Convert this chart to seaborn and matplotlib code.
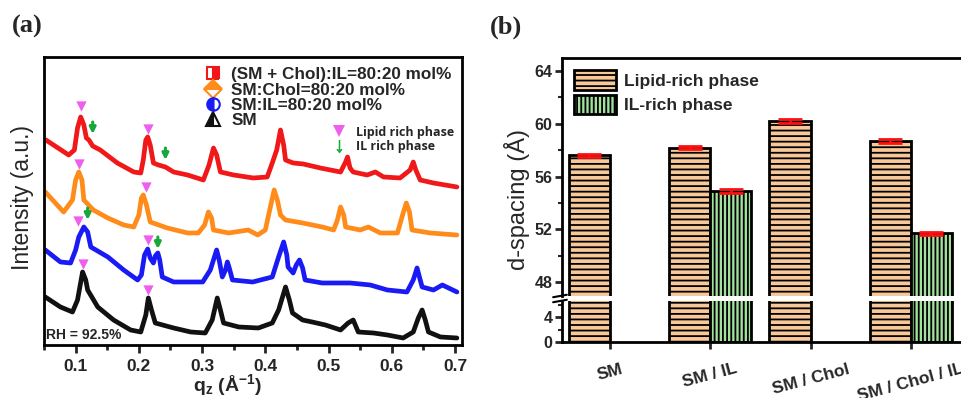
import numpy as np
import pandas as pd
import matplotlib
matplotlib.use("Agg")
import matplotlib.pyplot as plt
import seaborn as sns
from matplotlib.lines import Line2D
from matplotlib.patches import Patch
from matplotlib.ticker import MultipleLocator, FixedLocator

# ---------------- panel (a): XRD profiles (q in 1/A, intensity in a.u.) ----------------
q_red = [0.053, 0.089, 0.098, 0.103, 0.108, 0.113, 0.117, 0.121, 0.127, 0.139, 0.166, 0.192, 0.203,
         0.207, 0.211, 0.214, 0.218, 0.223, 0.231, 0.242, 0.255, 0.277, 0.302, 0.311, 0.318, 0.323,
         0.329, 0.350, 0.381, 0.403, 0.411, 0.418, 0.424, 0.429, 0.432, 0.444, 0.460, 0.487, 0.519,
         0.527, 0.530, 0.534, 0.539, 0.561, 0.574, 0.587, 0.613, 0.629, 0.634, 0.638, 0.645, 0.666, 0.703]
i_red = [205, 190, 195, 217, 228, 220, 207, 205, 199, 195, 182, 173, 172,
         185, 205, 208, 200, 182, 180, 178, 173, 170, 165, 180, 197, 190,
         173, 170, 167, 168, 182, 195, 215, 200, 185, 182, 181, 177, 173,
         183, 188, 177, 173, 170, 173, 168, 167, 175, 183, 175, 165, 162, 158]

q_orange = [0.052, 0.081, 0.095, 0.100, 0.105, 0.110, 0.113, 0.128, 0.151, 0.176, 0.192, 0.200, 0.204,
            0.207, 0.212, 0.218, 0.245, 0.277, 0.294, 0.304, 0.310, 0.315, 0.318, 0.342, 0.373, 0.388,
            0.400, 0.408, 0.414, 0.419, 0.424, 0.432, 0.459, 0.490, 0.508, 0.514, 0.519, 0.524, 0.527,
            0.550, 0.563, 0.582, 0.609, 0.618, 0.623, 0.628, 0.632, 0.661, 0.703]
i_orange = [153, 133, 145, 165, 173, 165, 145, 135, 127, 120, 118, 130, 147,
            150, 140, 123, 117, 112, 112, 120, 133, 127, 115, 112, 115, 110,
            115, 138, 155, 145, 130, 125, 122, 118, 115, 125, 138, 130, 118,
            115, 118, 112, 112, 132, 142, 133, 115, 112, 110]

q_blue = [0.052, 0.076, 0.092, 0.100, 0.105, 0.113, 0.119, 0.124, 0.151, 0.176, 0.198, 0.204, 0.209,
          0.214, 0.218, 0.223, 0.226, 0.230, 0.233, 0.237, 0.255, 0.301, 0.313, 0.323, 0.327, 0.332,
          0.337, 0.340, 0.343, 0.348, 0.380, 0.411, 0.421, 0.429, 0.434, 0.436, 0.444, 0.449, 0.454,
          0.459, 0.463, 0.490, 0.534, 0.566, 0.593, 0.624, 0.634, 0.640, 0.645, 0.648, 0.666, 0.680, 0.703]
i_blue = [95, 83, 82, 95, 108, 118, 113, 98, 88, 75, 65, 70, 90,
          96, 87, 82, 89, 92, 85, 68, 63, 63, 75, 95, 85, 68,
          75, 83, 77, 65, 63, 68, 88, 103, 90, 78, 72, 80, 85,
          77, 65, 62, 62, 60, 55, 53, 65, 77, 65, 58, 55, 60, 53]

q_black = [0.052, 0.076, 0.095, 0.103, 0.111, 0.116, 0.119, 0.135, 0.160, 0.187, 0.203, 0.211, 0.215,
           0.220, 0.226, 0.255, 0.282, 0.305, 0.316, 0.324, 0.329, 0.334, 0.358, 0.389, 0.411, 0.421,
           0.432, 0.438, 0.443, 0.459, 0.474, 0.495, 0.519, 0.531, 0.539, 0.547, 0.571, 0.593, 0.618,
           0.634, 0.642, 0.648, 0.653, 0.658, 0.677, 0.703]
i_black = [48, 38, 33, 45, 73, 65, 55, 38, 25, 15, 13, 30, 47,
           35, 22, 17, 13, 12, 25, 47, 35, 22, 18, 17, 22, 35,
           58, 45, 32, 25, 23, 20, 15, 22, 25, 13, 12, 10, 7,
           13, 27, 35, 25, 13, 8, 7]

# lipid-rich phase markers (pink triangles) and IL-rich phase markers (green arrows)
lipid_q = [0.109, 0.214, 0.105, 0.211, 0.103, 0.215, 0.111, 0.215]
lipid_i = [239, 216, 181, 158, 124, 105, 81, 55]
il_q = [0.127, 0.242, 0.119, 0.230]
il_i = [217, 191, 131, 102]

series_labels = ["(SM + Chol):IL=80:20 mol%", "SM:Chol=80:20 mol%", "SM:IL=80:20 mol%", "SM"]
series_colors = ["#F01818", "#FF8C1A", "#1A1AF5", "#111111"]

# ---------------- panel (b): d-spacing ----------------
samples = ["SM", "SM / IL", "SM / Chol", "SM / Chol / IL"]
lipid_d = [57.6, 58.2, 60.2, 58.7]
lipid_err = [0.14, 0.14, 0.14, 0.14]
il_d = [np.nan, 54.9, np.nan, 51.7]
il_err = [np.nan, 0.14, np.nan, 0.14]
phases = ["Lipid-rich phase", "IL-rich phase"]

sns.set_theme(style="ticks")
plt.rcParams["font.family"] = ["Liberation Sans", "DejaVu Sans"]
plt.rcParams["mathtext.fontset"] = "custom"
plt.rcParams["mathtext.rm"] = "Liberation Sans:bold"
plt.rcParams["mathtext.it"] = "Liberation Sans:bold"
plt.rcParams["mathtext.bf"] = "Liberation Sans:bold"
plt.rcParams["hatch.linewidth"] = 1.3
plt.rcParams["axes.linewidth"] = 2

fig = plt.figure(figsize=(9.61, 3.98), dpi=100)

# ======== panel (a) ========
axA = fig.add_axes([0.0458, 0.1332, 0.4349, 0.7236])
curves = [(q_red, i_red), (q_orange, i_orange), (q_blue, i_blue), (q_black, i_black)]
for (qq, ii), col in zip(curves, series_colors):
    sns.lineplot(x=qq, y=ii, ax=axA, color=col, lw=3.4, estimator=None, sort=False)
sns.scatterplot(x=lipid_q, y=lipid_i, ax=axA, marker="v", color="#EE5FEE", s=55, linewidth=0, zorder=5)
for qx, iy in zip(il_q, il_i):
    axA.annotate("", xy=(qx, iy - 6), xytext=(qx, iy + 6), xycoords="data",
                 arrowprops=dict(arrowstyle="-|>", color="#16A83A", lw=2.2, mutation_scale=9,
                                 shrinkA=0, shrinkB=0), zorder=6)
axA.set_xlim(0.05, 0.711)
axA.set_ylim(0, 288)
axA.set_yticks([])
axA.xaxis.set_major_locator(FixedLocator([0.1, 0.2, 0.3, 0.4, 0.5, 0.6, 0.7]))
axA.xaxis.set_minor_locator(MultipleLocator(0.05))
axA.tick_params(axis="x", which="major", length=6, width=2, direction="out", pad=4, labelsize=12.5)
axA.tick_params(axis="x", which="minor", length=3.5, width=2, direction="out")
axA.set_xticklabels(["0.1", "0.2", "0.3", "0.4", "0.5", "0.6", "0.7"], fontweight="bold")
axA.set_xlabel(r"q$_{z}$ (Å$^{-1}$)", fontsize=14, fontweight="bold")
axA.xaxis.set_label_coords(0.44, -0.095)
axA.set_ylabel("")
for s in axA.spines.values():
    s.set_linewidth(2)
    s.set_color("black")

handles1 = [
    Line2D([], [], ls="none", marker="s", color=series_colors[0], markerfacecoloralt="white",
           fillstyle="right", ms=9, mew=1.5),
    Line2D([], [], ls="none", marker="D", color=series_colors[1], markerfacecoloralt="white",
           fillstyle="top", ms=9, mew=1.5),
    Line2D([], [], ls="none", marker="o", color=series_colors[2], markerfacecoloralt="white",
           fillstyle="left", ms=9, mew=1.5),
    Line2D([], [], ls="none", marker="^", color=series_colors[3], markerfacecoloralt="white",
           fillstyle="left", ms=10, mew=1.5),
]
leg1 = axA.legend(handles1, series_labels, loc="upper right", bbox_to_anchor=(1.0, 1.0),
                  frameon=False, prop=dict(weight="bold", size=12.3), handlelength=1.2,
                  handletextpad=0.5, labelspacing=0.02, borderaxespad=0.2)
axA.add_artist(leg1)
handles2 = [
    Line2D([], [], ls="none", marker="v", color="#EE5FEE", ms=8, mew=0),
    Line2D([], [], ls="none", marker=r"$\downarrow$", color="#16A83A", ms=9, mew=0.5),
]
axA.legend(handles2, ["Lipid rich phase", "IL rich phase"], loc="upper right",
           bbox_to_anchor=(1.0, 0.79), frameon=False,
           prop=dict(family="Open Sans", weight="bold", size=9), handlelength=1.0,
           handletextpad=0.8, labelspacing=0.15, borderaxespad=0.25)
axA.text(0.005, 0.012, "RH = 92.5%", transform=axA.transAxes, fontsize=10, fontweight="bold",
         ha="left", va="bottom")

fig.text(0.023, 0.505, "Intensity (a.u.)", rotation=90, fontsize=16.5, ha="center", va="center")
fig.text(0.012, 0.962, "(a)", fontsize=19, fontweight="bold", family="Liberation Serif",
         ha="left", va="top")

# ======== panel (b) ========
df = pd.DataFrame({
    "sample": samples * 2,
    "phase": [phases[0]] * 4 + [phases[1]] * 4,
    "d": lipid_d + il_d,
    "err": lipid_err + il_err,
}).dropna()

peach = "#F8C898"
green = "#A2E29C"
hatches = ["---", "||||"]

axU = fig.add_axes([0.5848, 0.2563, 0.4194, 0.598])
axL = fig.add_axes([0.5848, 0.1407, 0.4194, 0.103])
for ax in (axU, axL):
    sns.barplot(data=df, x="sample", y="d", hue="phase", hue_order=phases, order=samples,
                palette=[peach, green], width=0.82, edgecolor="black", linewidth=2,
                errorbar=None, saturation=1, ax=ax, legend=False)
    for cont, h in zip(ax.containers, hatches):
        for bar in cont:
            bar.set_hatch(h)
    ax.set_xlim(-0.478, 3.54)
    ax.set_xlabel("")
    ax.set_ylabel("")
    for s in ax.spines.values():
        s.set_linewidth(2)
        s.set_color("black")

errs = {phases[0]: lipid_err, phases[1]: il_err}
for cont, ph in zip(axU.containers, phases):
    for bar in cont:
        cx = bar.get_x() + bar.get_width() / 2
        k = int(round(cx))
        e = errs[ph][k]
        if np.isfinite(e) and np.isfinite(bar.get_height()):
            axU.errorbar(cx, bar.get_height(), yerr=e, color="#FF1010", capsize=8.5,
                         elinewidth=2, capthick=2, zorder=5)

axU.set_ylim(46.96, 64.98)
axL.set_ylim(0, 6.64)
axU.spines["bottom"].set_visible(False)
axL.spines["top"].set_visible(False)
axU.tick_params(axis="x", bottom=False, labelbottom=False)
axU.yaxis.set_major_locator(FixedLocator([48, 52, 56, 60, 64]))
axU.yaxis.set_minor_locator(FixedLocator([50, 54, 58, 62]))
axL.yaxis.set_major_locator(FixedLocator([0, 4]))
axL.yaxis.set_minor_locator(FixedLocator([2, 6]))
for ax in (axU, axL):
    ax.tick_params(axis="y", which="major", length=5, width=2, direction="out", pad=2, labelsize=11.5)
    ax.tick_params(axis="y", which="minor", length=3, width=1.5, direction="out")
    for lab in ax.get_yticklabels():
        lab.set_fontweight("bold")
axL.tick_params(axis="x", which="major", length=5, width=2, direction="out", pad=9, labelsize=12.5)
axL.set_xticks(range(len(samples)))
axL.set_xticklabels(samples, rotation=15, fontweight="bold", ha="center")

# break marks on the left spine
for ax, y0 in ((axU, 0.0), (axL, 1.0)):
    ax.plot([-0.022, 0.012], [y0 - 0.02 * (0.103 / 0.598 if ax is axU else 1) * 1.5,
                              y0 + 0.02 * (0.103 / 0.598 if ax is axU else 1) * 1.5],
            transform=ax.transAxes, color="black", lw=1.5, clip_on=False)

leg_handles = [Patch(facecolor=peach, edgecolor="black", hatch=hatches[0], linewidth=2),
               Patch(facecolor=green, edgecolor="black", hatch=hatches[1], linewidth=2)]
axU.legend(leg_handles, phases, loc="upper left", bbox_to_anchor=(0.0, 1.0), frameon=False,
           prop=dict(weight="bold", size=12.5), handlelength=2.4, handleheight=1.35,
           handletextpad=0.45, labelspacing=0.3, borderaxespad=0.3)

fig.text(0.538, 0.50, "d-spacing (Å)", rotation=90, fontsize=17, ha="center", va="center")
fig.text(0.510, 0.962, "(b)", fontsize=19, fontweight="bold", family="Liberation Serif",
         ha="left", va="top")

fig.savefig("out.png", dpi=100)
